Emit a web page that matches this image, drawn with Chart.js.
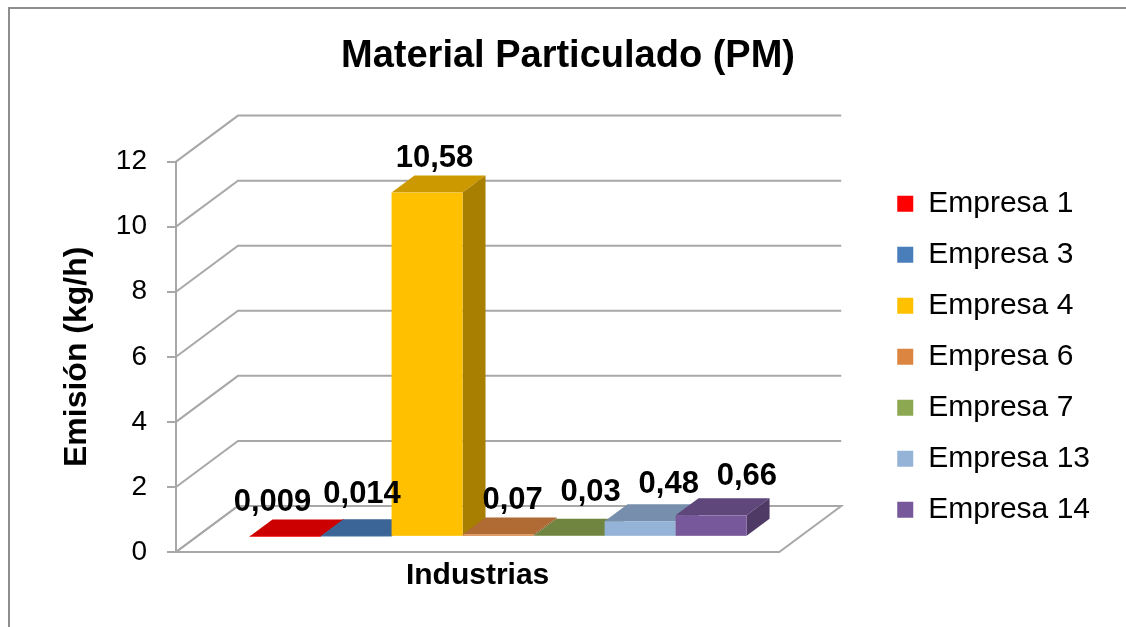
<!DOCTYPE html>
<html><head><meta charset="utf-8">
<script src="https://cdn.jsdelivr.net/npm/chart.js@4.4.1/dist/chart.umd.min.js"></script>
<style>html,body{margin:0;padding:0;background:#fff;overflow:hidden}#wrap{width:1126px;height:627px}</style>
</head><body><div id="wrap"><canvas id="c" width="1126" height="627"></canvas></div>
<script>
// ---- data ----
const categories = ['Industrias'];
const seriesNames = ['Empresa 1','Empresa 3','Empresa 4','Empresa 6','Empresa 7','Empresa 13','Empresa 14'];
const seriesValues = [0.009, 0.014, 10.58, 0.07, 0.03, 0.48, 0.66];
const yTicks = [0, 2, 4, 6, 8, 10, 12];
const seriesColors = ['#FF0000','#4A7EBB','#FFC000','#DC8540','#8CA850','#95B3D7','#77589A'];

// ---- style ----
const FONT = "'Liberation Sans', Arial, sans-serif";
const GRID = '#A8A8A8';
const DEPTH = {dx: 62, dy: -46, f0: 0.33, f1: 0.70};
const LABEL_SPREAD = 0.1;
const LABEL_SHIFT = 3;
const LABEL_MIN_GAP = 12;
const WALL_GAP = 97;   // space between plot front plane and legend

function shade(hex, k){
  const n = parseInt(hex.slice(1),16);
  const r = Math.round(((n>>16)&255)*k), g = Math.round(((n>>8)&255)*k), b = Math.round((n&255)*k);
  return `rgb(${r},${g},${b})`;
}
const fmt = v => String(v).replace('.', ',');

const threeD = {
  id:'threeD',
  afterLayout(chart){
    const xs = chart.scales.x;
    xs.right = chart.chartArea.right - WALL_GAP;
    xs.width = xs.right - xs.left;
    xs.configure();
  },
  beforeDraw(chart){
    const c = chart.ctx; c.save();
    c.fillStyle='#fff'; c.fillRect(0,0,chart.width,chart.height);
    c.strokeStyle='#8E8E8E'; c.lineWidth=2;
    c.strokeRect(9,8,chart.width+40,chart.height+40);
    c.restore();
  },
  beforeDatasetsDraw(chart){
    const c = chart.ctx, ys = chart.scales.y, xs = chart.scales.x;
    c.save();
    c.strokeStyle = GRID; c.lineWidth = 2;
    const y0 = ys.getPixelForValue(0);
    c.beginPath();
    c.moveTo(xs.left, y0); c.lineTo(xs.right, y0);
    c.lineTo(xs.right + DEPTH.dx, y0 + DEPTH.dy);
    c.lineTo(xs.left + DEPTH.dx, y0 + DEPTH.dy);
    c.closePath();
    c.fillStyle = '#fff'; c.fill(); c.stroke();
    yTicks.forEach(v => {
      const y = ys.getPixelForValue(v);
      c.beginPath();
      c.moveTo(xs.left, y);
      c.lineTo(xs.left + DEPTH.dx, y + DEPTH.dy);
      c.lineTo(xs.right + DEPTH.dx, y + DEPTH.dy);
      c.stroke();
    });
    c.restore();
  },
  beforeDatasetDraw(){ return false; },
  afterDatasetsDraw(chart){
    const c = chart.ctx, xs = chart.scales.x;
    const cx = (xs.left + xs.right)/2;
    const ox = DEPTH.f0*DEPTH.dx, oy = DEPTH.f0*DEPTH.dy;
    const ddx = (DEPTH.f1-DEPTH.f0)*DEPTH.dx, ddy = (DEPTH.f1-DEPTH.f0)*DEPTH.dy;
    c.save();
    const labels = [];
    chart.data.datasets.forEach((ds, i) => {
      const el = chart.getDatasetMeta(i).data[0];
      const p = el.getProps(['x','y','base','width'], true);
      const x0 = p.x - p.width/2 + ox, x1 = p.x + p.width/2 + ox;
      const yT = p.y + oy, yB = p.base + oy;
      const col = ds.backgroundColor;
      c.fillStyle = shade(col, 0.8);
      c.beginPath(); c.moveTo(x0,yT); c.lineTo(x1,yT); c.lineTo(x1+ddx,yT+ddy); c.lineTo(x0+ddx,yT+ddy); c.closePath(); c.fill();
      c.fillStyle = shade(col, 0.66);
      c.beginPath(); c.moveTo(x1,yT); c.lineTo(x1+ddx,yT+ddy); c.lineTo(x1+ddx,yB+ddy); c.lineTo(x1,yB); c.closePath(); c.fill();
      c.fillStyle = col;
      c.fillRect(x0, yT, x1-x0, yB-yT);
      labels.push({text: fmt(ds.data[0]), x: p.x + (DEPTH.f0+DEPTH.f1)/2*DEPTH.dx + LABEL_SHIFT + (p.x - cx)*LABEL_SPREAD, y: yT + ddy - 9});
    });
    c.font = `bold 31px ${FONT}`; c.fillStyle = '#000';
    c.textAlign = 'center'; c.textBaseline = 'alphabetic';
    labels.forEach(l => { l.w = c.measureText(l.text).width; });
    // simple overlap avoidance between neighbouring labels
    for (let i = 1; i < labels.length; i++) {
      const a = labels[i-1], b = labels[i];
      if (Math.abs(a.y - b.y) < 24) {
        const gap = (b.x - b.w/2) - (a.x + a.w/2);
        if (gap < LABEL_MIN_GAP) { const s = (LABEL_MIN_GAP - gap)/2; a.x -= s; b.x += s; }
        if (gap < 22) b.y = Math.min(b.y, a.y - 8);
      }
    }
    labels.forEach(l => c.fillText(l.text, l.x, l.y));
    c.restore();
  }
};

new Chart(document.getElementById('c'), {
  type: 'bar',
  data: {
    labels: categories,
    datasets: seriesNames.map((n, i) => ({label: n, data: [seriesValues[i]], backgroundColor: seriesColors[i], borderWidth: 0}))
  },
  options: {
    responsive: false, animation: false, devicePixelRatio: 1,
    layout: {padding: {left: 36, right: 26, top: 0, bottom: 0}},
    datasets: {bar: {categoryPercentage: 0.824, barPercentage: 1}},
    scales: {
      x: {
        ticks: {font: {family: FONT, size: 30, weight: 'bold'}, color: '#000', padding: 6},
        grid: {display: false, drawTicks: false}, border: {display: false},
        afterFit(s){ s.height = 75; }
      },
      y: {
        min: 0, max: 12,
        afterBuildTicks(s){ s.ticks = yTicks.map(v => ({value: v})); },
        ticks: {font: {family: FONT, size: 28}, color: '#000', padding: 20},
        grid: {drawOnChartArea: false, drawTicks: true, tickLength: 9, color: GRID, lineWidth: 2},
        border: {display: true, color: GRID, width: 2},
        title: {display: true, text: 'Emisión (kg/h)', font: {family: FONT, size: 32, weight: 'bold'}, color: '#000', padding: {top: 22, bottom: 0}},
        afterFit(s){ s.width = 140; }
      }
    },
    plugins: {
      legend: {position: 'right', align: 'center', fullSize: false,
        labels: {boxWidth: 16, boxHeight: 16, font: {family: FONT, size: 30}, color: '#000', padding: 21}},
      title: {display: true, text: 'Material Particulado (PM)', font: {family: FONT, size: 38, weight: 'bold'}, color: '#000', padding: {top: 34, bottom: 82}},
      tooltip: {enabled: false}
    }
  },
  plugins: [threeD]
});
</script></body></html>
